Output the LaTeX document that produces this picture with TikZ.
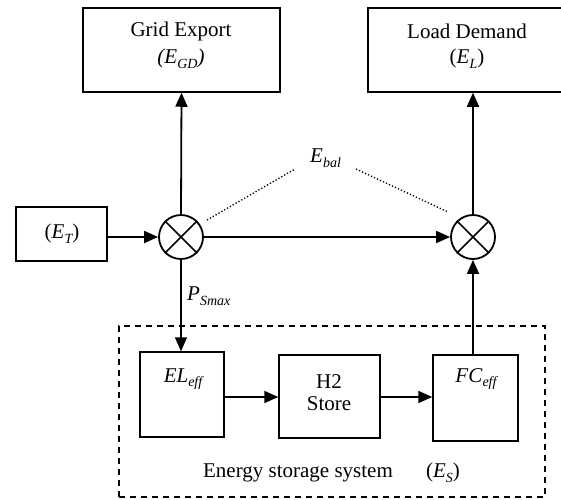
\documentclass[tikz,border=0pt]{standalone}
\usepackage{fontspec}
\setmainfont{Liberation Serif}
\usetikzlibrary{arrows.meta}
\newcommand\sbs[1]{\raisebox{-0.22em}{\fontsize{14}{14}\selectfont\itshape #1}}
\tikzset{
  box/.style={draw, line width=1.5pt, inner sep=0pt},
  lbl/.style={font=\fontsize{21}{25}\selectfont, inner sep=0pt, align=center},
  arr/.style={line width=1.8pt, -{Triangle[length=14pt,width=12pt]}},
  sumc/.style={draw, circle, line width=1.8pt, minimum size=44pt, inner sep=0pt},
  dots/.style={line width=1.3pt, dotted},
  dashbox/.style={draw, line width=1.4pt, dash pattern=on 6pt off 5pt, inner sep=0pt},
}
\begin{document}
\begin{tikzpicture}[x=1pt,y=-1pt]
\useasboundingbox (0,0) rectangle (561,499);
% boxes
\node[box, minimum width=197pt, minimum height=84pt] (ge) at (181.5,50) {};
\node[box, minimum width=198pt, minimum height=84pt] (ld) at (467,50) {};
\node[box, minimum width=91pt, minimum height=54pt] (et) at (61.5,234) {};
\node[dashbox, minimum width=426pt, minimum height=171pt] (ess) at (332,411.5) {};
\node[box, minimum width=84pt, minimum height=85pt] (el) at (182,394.5) {};
\node[box, minimum width=101pt, minimum height=83pt] (h2) at (329.5,396.5) {};
\node[box, minimum width=85pt, minimum height=86pt] (fc) at (475.5,398) {};
% summing junctions
\node[sumc] (c1) at (181,237) {};
\node[sumc] (c2) at (473,237) {};
\draw[line width=1.6pt] (c1.north west) -- (c1.south east) (c1.north east) -- (c1.south west);
\draw[line width=1.6pt] (c2.north west) -- (c2.south east) (c2.north east) -- (c2.south west);
% labels
\node[lbl] (tge1) at (181,31) {Grid Export};
\node[lbl] (tge2) at (181,59) {\textit{(E}\sbs{GD}\textit{)}};
\node[lbl] (tld1) at (467,31) {Load Demand};
\node[lbl] (tld2) at (467,59) {(\textit{E}\sbs{L})};
\node[lbl] (tet) at (62,234) {(\textit{E}\sbs{T})};
\node[lbl] (tel) at (183,379) {\textit{EL}\sbs{eff}};
\node[lbl] (th2) at (329,393) {H2\\[-3pt]Store};
\node[lbl] (tfc) at (476,379) {\textit{FC}\sbs{eff}};
\node[lbl] (tess) at (298,473) {Energy storage system};
\node[lbl] (tes) at (443,473) {(\textit{E}\sbs{S})};
\node[lbl, anchor=west] (tps) at (187,296) {\textit{P}\sbs{Smax}};
\node[lbl, anchor=west] (tbal) at (310,158) {\textit{E}\sbs{bal}};
% connectors
\draw[arr] (c1.north) -- (ge.south);
\draw[arr] (c2.north) -- (c2.north |- ld.south);
\draw[arr] (et.east |- c1.west) -- (c1.west);
\draw[arr] (c1.east) -- (c2.west);
\draw[arr] (c1.south) -- (c1.south |- el.north);
\draw[arr] (c2.south |- fc.north) -- (c2.south);
\draw[arr] (el.east |- 0,397) -- (h2.west |- 0,397);
\draw[arr] (h2.east |- 0,397) -- (fc.west |- 0,397);
% dotted lines to E_bal
\coordinate (d1a) at (207,220);
\coordinate (d1b) at (295,169);
\coordinate (d2a) at (356,169);
\coordinate (d2b) at (448,212);
\draw[dots] (d1a) -- (d1b);
\draw[dots] (d2a) -- (d2b);
\end{tikzpicture}
\end{document}
